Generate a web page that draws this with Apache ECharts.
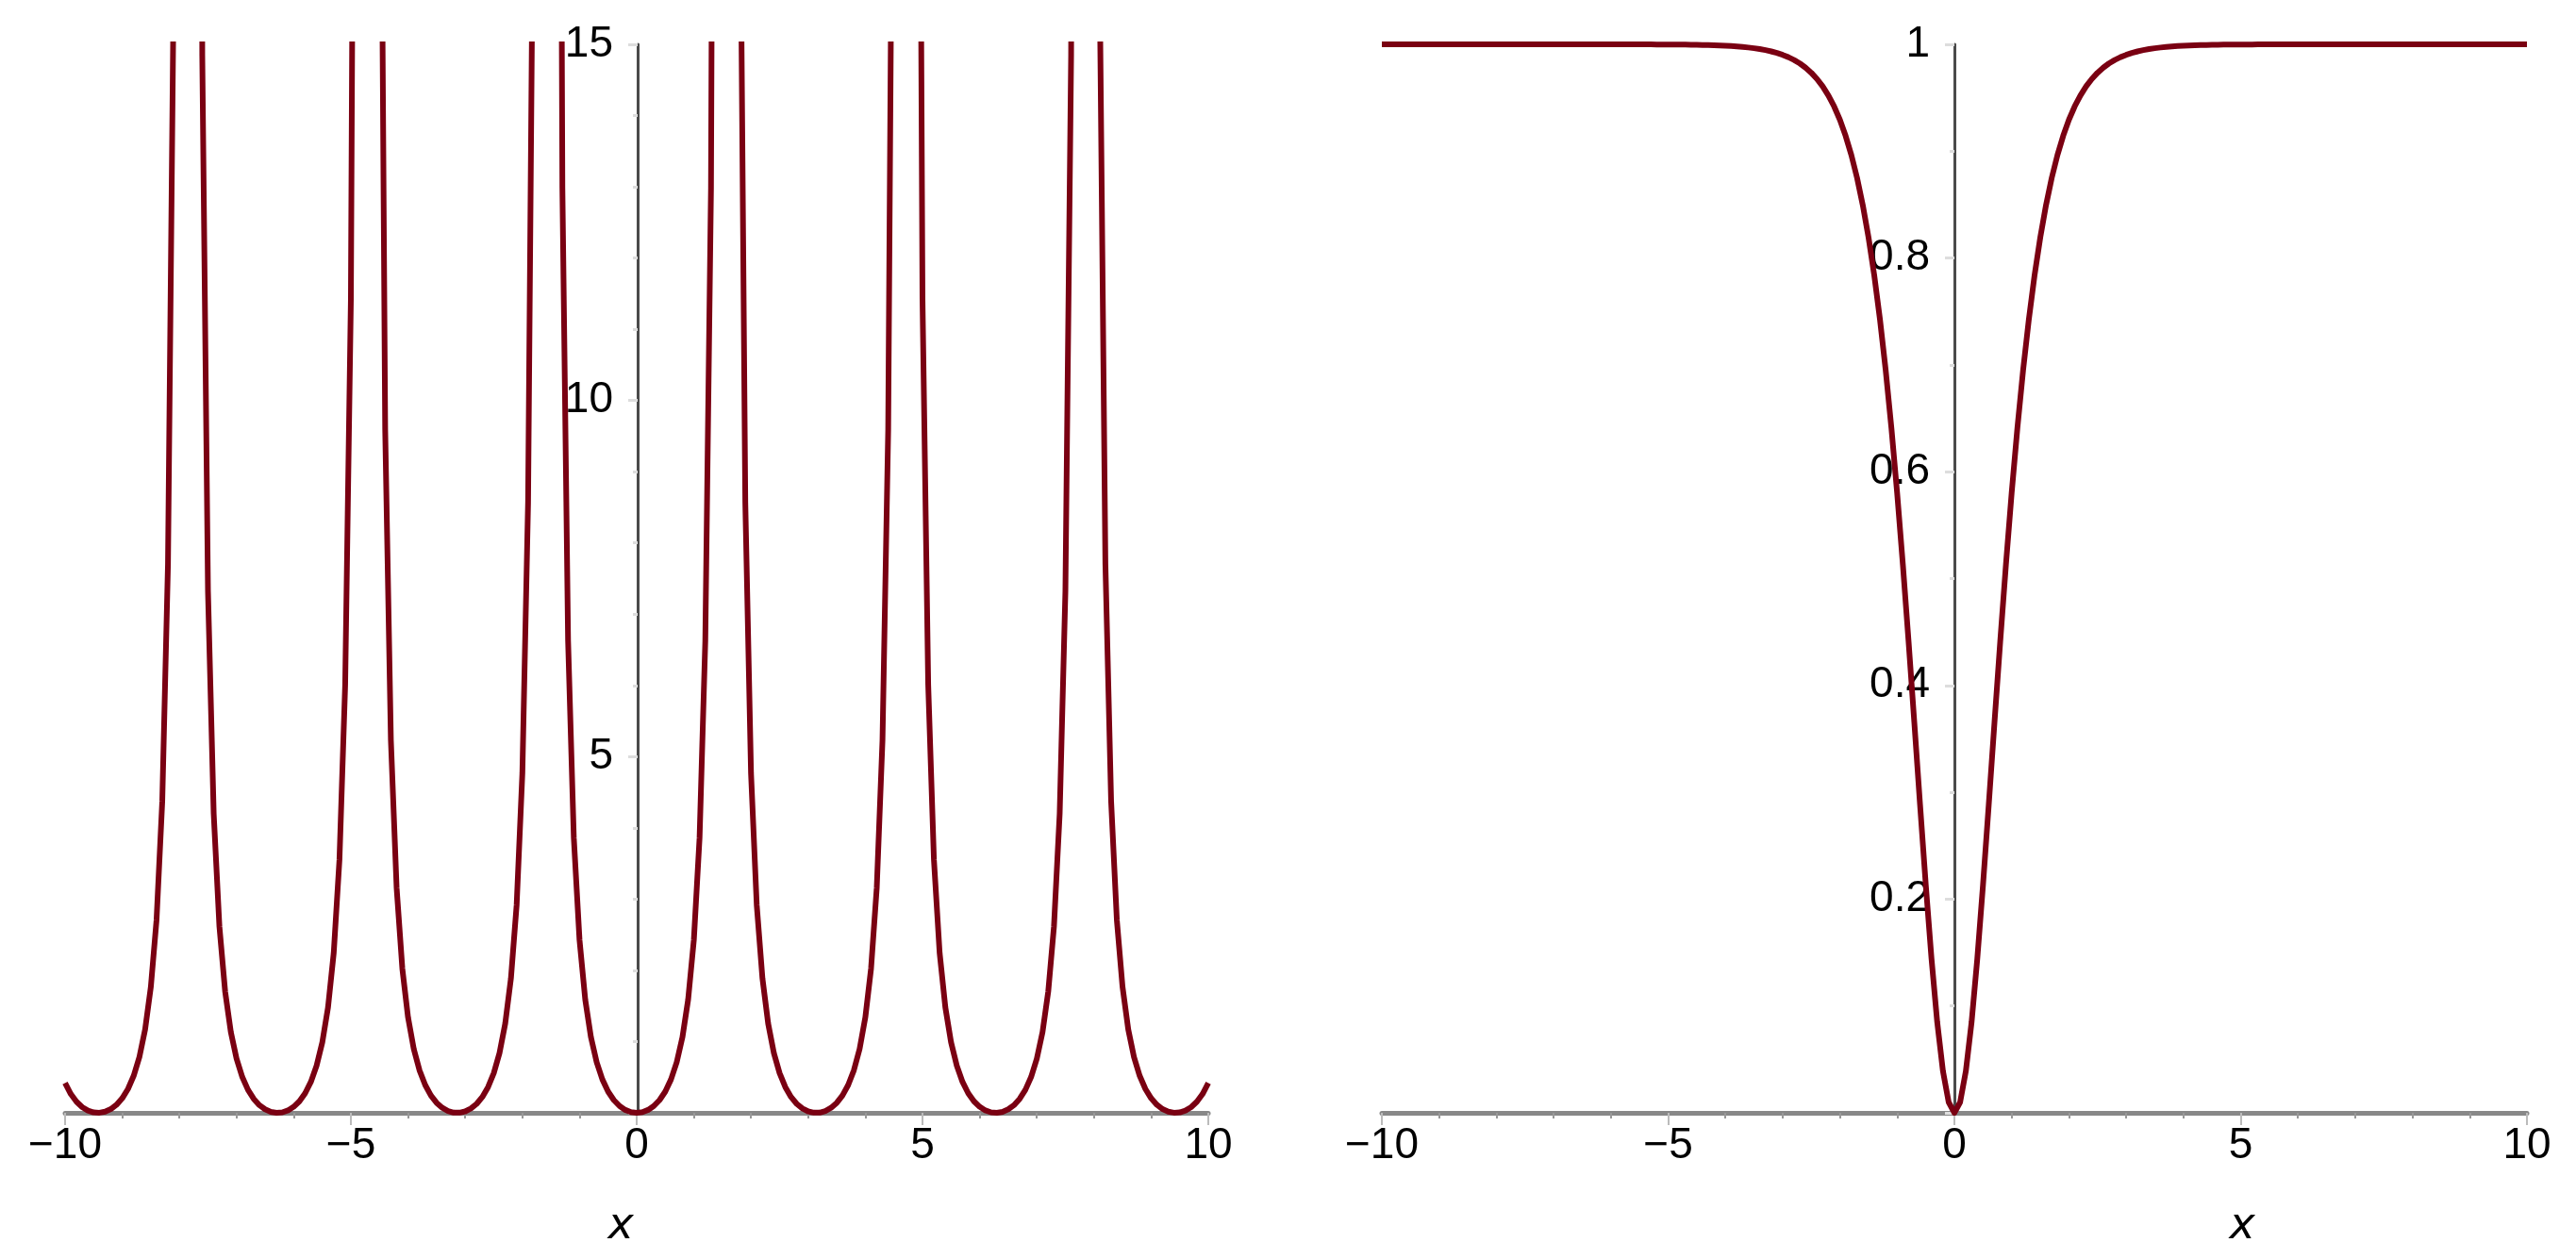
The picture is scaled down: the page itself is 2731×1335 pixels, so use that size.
<!DOCTYPE html>
<html>
<head>
<meta charset="utf-8">
<script src="https://cdn.jsdelivr.net/npm/echarts@6/dist/echarts.min.js"></script>
<style>
  html, body { margin: 0; padding: 0; background: #fff; }
  #chart { width: 2731px; height: 1335px; }
</style>
</head>
<body>
<div id="chart"></div>
<script>
// sample grid of both curves: x = -10 .. 10, step 0.1
const xStart = -10
const xStep = 0.1

// left panel (values above 15 run off the top)
const leftY = [
  0.42, 0.264, 0.155, 0.08, 0.031, 0.006, 0.001, 0.016, 0.052, 0.113,
  0.204, 0.335, 0.519, 0.783, 1.171, 1.765, 2.708, 4.373, 7.7, 15.86,
  46.3, 472, 342, 41.5, 14.84, 7.32, 4.199, 2.615, 1.703, 1.133,
  0.759, 0.502, 0.323, 0.196, 0.107, 0.049, 0.014, 0, 0.007, 0.034,
  0.085, 0.162, 0.275, 0.435, 0.662, 0.99, 1.48, 2.245, 3.553, 6.01,
  11.42, 27.8, 129.7, 6500, 78.4, 21.5, 9.59, 5.227, 3.161, 2.025,
  1.34, 0.897, 0.598, 0.39, 0.244, 0.14, 0.07, 0.026, 0.003, 0.002,
  0.02, 0.061, 0.126, 0.223, 0.362, 0.558, 0.839, 1.252, 1.887, 2.92,
  4.77, 8.57, 18.37, 59.2, 1172, 198.8, 33.6, 12.98, 6.62, 3.86,
  2.426, 1.588, 1.06, 0.71, 0.468, 0.298, 0.179, 0.096, 0.041, 0.01,
  0, 0.01, 0.041, 0.096, 0.179, 0.298, 0.468, 0.71, 1.06, 1.588,
  2.426, 3.86, 6.62, 12.98, 33.6, 198.8, 1172, 59.2, 18.37, 8.57,
  4.77, 2.92, 1.887, 1.252, 0.839, 0.558, 0.362, 0.223, 0.126, 0.061,
  0.02, 0.002, 0.003, 0.026, 0.07, 0.14, 0.244, 0.39, 0.598, 0.897,
  1.34, 2.025, 3.161, 5.227, 9.59, 21.5, 78.4, 6500, 129.7, 27.8,
  11.42, 6.01, 3.553, 2.245, 1.48, 0.99, 0.662, 0.435, 0.275, 0.162,
  0.085, 0.034, 0.007, 0, 0.014, 0.049, 0.107, 0.196, 0.323, 0.502,
  0.759, 1.133, 1.703, 2.615, 4.199, 7.32, 14.84, 41.5, 342, 472,
  46.3, 15.86, 7.7, 4.373, 2.708, 1.765, 1.171, 0.783, 0.519, 0.335,
  0.204, 0.113, 0.052, 0.016, 0.001, 0.006, 0.031, 0.08, 0.155, 0.264,
  0.42
]

// right panel
const rightY = [
  1, 1, 1, 1, 1, 1, 1, 1, 1, 1,
  1, 1, 1, 1, 1, 1, 1, 1, 1, 1,
  1, 1, 1, 1, 1, 1, 1, 1, 1, 1,
  1, 1, 1, 1, 1, 1, 1, 1, 1, 1,
  0.99998, 0.99997, 0.99996, 0.99996, 0.99995, 0.99993, 0.99992, 0.9999, 0.99988, 0.99985,
  0.99982, 0.99978, 0.99973, 0.99967, 0.9996, 0.99951, 0.9994, 0.99926, 0.9991, 0.9989,
  0.99866, 0.99836, 0.998, 0.99756, 0.99702, 0.99636, 0.99556, 0.99457, 0.99338, 0.99192,
  0.99013, 0.98796, 0.98531, 0.9821, 0.97818, 0.9734, 0.96761, 0.9606, 0.95209, 0.94178,
  0.92935, 0.9143, 0.8964, 0.875, 0.8495, 0.8193, 0.7839, 0.7425, 0.695, 0.6408,
  0.58, 0.5131, 0.4409, 0.3653, 0.2884, 0.2135, 0.1443, 0.0848, 0.039, 0.0099,
  0, 0.0099, 0.039, 0.0848, 0.1443, 0.2135, 0.2884, 0.3653, 0.4409, 0.5131,
  0.58, 0.6408, 0.695, 0.7425, 0.7839, 0.8193, 0.8495, 0.875, 0.8964, 0.9143,
  0.92935, 0.94178, 0.95209, 0.9606, 0.96761, 0.9734, 0.97818, 0.9821, 0.98531, 0.98796,
  0.99013, 0.99192, 0.99338, 0.99457, 0.99556, 0.99636, 0.99702, 0.99756, 0.998, 0.99836,
  0.99866, 0.9989, 0.9991, 0.99926, 0.9994, 0.99951, 0.9996, 0.99967, 0.99973, 0.99978,
  0.99982, 0.99985, 0.99988, 0.9999, 0.99992, 0.99993, 0.99995, 0.99996, 0.99996, 0.99997,
  0.99998, 1, 1, 1, 1, 1, 1, 1, 1, 1,
  1, 1, 1, 1, 1, 1, 1, 1, 1, 1,
  1, 1, 1, 1, 1, 1, 1, 1, 1, 1,
  1, 1, 1, 1, 1, 1, 1, 1, 1, 1,
  1
]

const xTicks = [-10, -5, 0, 5, 10]
const leftYTicks = [5, 10, 15]
const rightYTicks = [0.2, 0.4, 0.6, 0.8, 1]

const toPoints = (ys) => ys.map((y, i) => [+(xStart + i * xStep).toFixed(1), y])

const curveColor = '#7a0012'
const labelFont = {
  color: '#000',
  fontSize: 46,
  fontFamily: '"Liberation Sans Narrow", "Liberation Sans", sans-serif'
}

const xAxisBase = (gridIndex, namePad) => ({
  type: 'value',
  gridIndex,
  min: xTicks[0],
  max: xTicks[xTicks.length - 1],
  interval: 5,
  name: 'x',
  nameLocation: 'middle',
  nameGap: 98,
  nameTextStyle: {
    color: '#000',
    fontSize: 46,
    fontStyle: 'italic',
    fontFamily: '"DejaVu Sans", sans-serif',
    padding: namePad
  },
  axisLine: { onZero: false, lineStyle: { color: '#888', width: 5 } },
  axisTick: { length: 13, lineStyle: { color: '#bbb', width: 2 } },
  minorTick: { show: true, splitNumber: 5, length: 6, lineStyle: { color: '#999', width: 2 } },
  splitLine: { show: false },
  axisLabel: {
    ...labelFont,
    margin: 12,
    formatter: v => (v < 0 ? '\u2212' + Math.abs(v) : String(v))
  }
})

// y axis drawn at x = 0: shift it right from the grid's left edge
const yAxisBase = (gridIndex, max, interval, minorSplit, offset) => ({
  type: 'value',
  gridIndex,
  position: 'left',
  offset,
  min: 0,
  max,
  interval,
  axisLine: { show: true, onZero: false, lineStyle: { color: '#4a4a4a', width: 3 } },
  axisTick: { show: true, length: 10, lineStyle: { color: '#ddd', width: 3 } },
  minorTick: { show: true, splitNumber: minorSplit, length: 5, lineStyle: { color: '#ddd', width: 3 } },
  splitLine: { show: false },
  axisLabel: {
    ...labelFont,
    margin: 26,
    showMinLabel: false
  }
})

const chart = echarts.init(document.getElementById('chart'), null, { renderer: 'canvas' })
chart.setOption({
  backgroundColor: '#fff',
  animation: false,
  grid: [
    { left: 69, right: 1450, top: 47, bottom: 155 },
    { left: 1465, right: 52, top: 47, bottom: 155 }
  ],
  xAxis: [
    xAxisBase(0, [0, 34, 0, 0]),
    xAxisBase(1, [0, 0, 0, 610])
  ],
  yAxis: [
    yAxisBase(0, leftYTicks[leftYTicks.length - 1], 5, 5, -607),
    yAxisBase(1, rightYTicks[rightYTicks.length - 1], 0.2, 2, -607)
  ],
  series: [
    {
      type: 'line',
      xAxisIndex: 0,
      yAxisIndex: 0,
      data: toPoints(leftY),
      showSymbol: false,
      symbol: 'none',
      clip: true,
      lineStyle: { color: curveColor, width: 6, join: 'round' }
    },
    {
      type: 'line',
      xAxisIndex: 1,
      yAxisIndex: 1,
      data: toPoints(rightY),
      showSymbol: false,
      symbol: 'none',
      clip: true,
      lineStyle: { color: curveColor, width: 6, join: 'round' }
    }
  ]
})
</script>
</body>
</html>
